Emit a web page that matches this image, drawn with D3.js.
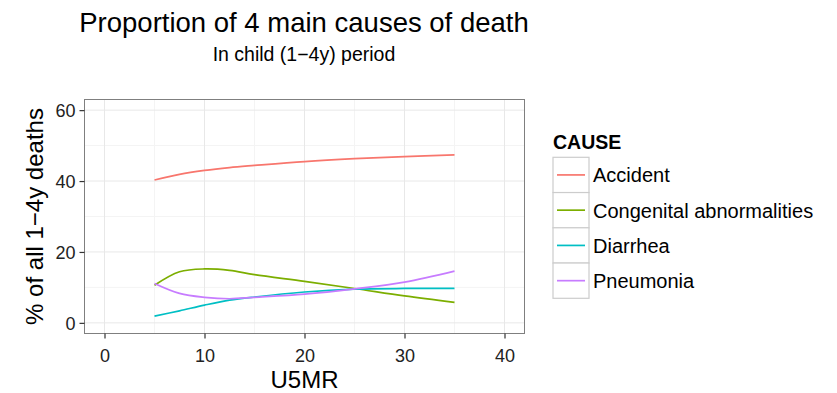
<!DOCTYPE html>
<html>
<head>
<meta charset="utf-8">
<script src="https://cdn.jsdelivr.net/npm/d3@7"></script>
<style>
  body { margin: 0; background: #fff; }
  svg { display: block; font-family: "Liberation Sans", Arial, sans-serif; }
</style>
</head>
<body>
<svg id="chart" width="837" height="393"></svg>
<script>
// U5MR sample points and smoothed share (%) of 1–4y deaths per cause
const u5mr = [5, 7.5, 10, 12.5, 15, 20, 25, 30, 35];
const causes = ["Accident", "Congenital abnormalities", "Diarrhea", "Pneumonia"];
const accident   = [40.3, 41.9, 43.0, 43.8, 44.4, 45.5, 46.3, 46.9, 47.4];
const congenital = [10.6, 14.4, 15.2, 14.8, 13.6, 11.7, 9.7, 7.6, 5.8];
const diarrhea   = [1.9, 3.4, 5.0, 6.4, 7.3, 8.7, 9.5, 9.7, 9.7];
const pneumonia  = [11.1, 8.3, 7.2, 6.8, 7.2, 8.1, 9.6, 11.5, 14.6];
const colors = ["#F8766D", "#7CAE00", "#00BFC4", "#C77CFF"];
const xTicks = [0, 10, 20, 30, 40];
const xMinor = [5, 15, 25, 35];
const yTicks = [0, 20, 40, 60];
const yMinor = [10, 30, 50];

const seriesValues = [accident, congenital, diarrhea, pneumonia];
const series = causes.map((name, i) => ({
  name,
  color: colors[i],
  points: u5mr.map((x, j) => ({ x, y: seriesValues[i][j] }))
}));

const svg = d3.select("#chart");
const panel = { left: 84.5, right: 524.5, top: 99.5, bottom: 333.5 };

const x = d3.scaleLinear().domain([-2, 42]).range([panel.left, panel.right]);
const y = d3.scaleLinear().domain([-3, 63]).range([panel.bottom, panel.top]);

// panel background and grid
svg.append("rect")
  .attr("x", panel.left).attr("y", panel.top)
  .attr("width", panel.right - panel.left).attr("height", panel.bottom - panel.top)
  .attr("fill", "#fff");

const grid = svg.append("g");
grid.selectAll(".xminor").data(xMinor).join("line")
  .attr("x1", d => x(d)).attr("x2", d => x(d))
  .attr("y1", panel.top).attr("y2", panel.bottom)
  .attr("stroke", "#f4f4f4").attr("stroke-width", 1);
grid.selectAll(".yminor").data(yMinor).join("line")
  .attr("y1", d => y(d)).attr("y2", d => y(d))
  .attr("x1", panel.left).attr("x2", panel.right)
  .attr("stroke", "#f4f4f4").attr("stroke-width", 1);
grid.selectAll(".xmajor").data(xTicks).join("line")
  .attr("x1", d => x(d)).attr("x2", d => x(d))
  .attr("y1", panel.top).attr("y2", panel.bottom)
  .attr("stroke", "#e8e8e8").attr("stroke-width", 1);
grid.selectAll(".ymajor").data(yTicks).join("line")
  .attr("y1", d => y(d)).attr("y2", d => y(d))
  .attr("x1", panel.left).attr("x2", panel.right)
  .attr("stroke", "#e8e8e8").attr("stroke-width", 1);

// smoothed lines
const line = d3.line().x(d => x(d.x)).y(d => y(d.y)).curve(d3.curveCatmullRom.alpha(0.5));
svg.append("g").selectAll("path").data(series).join("path")
  .attr("d", d => line(d.points))
  .attr("fill", "none")
  .attr("stroke", d => d.color)
  .attr("stroke-width", 1.7);

// panel border
svg.append("rect")
  .attr("x", panel.left).attr("y", panel.top)
  .attr("width", panel.right - panel.left).attr("height", panel.bottom - panel.top)
  .attr("fill", "none").attr("stroke", "#7f7f7f").attr("stroke-width", 1);

// axes
const xAxis = svg.append("g")
  .attr("transform", `translate(0,${panel.bottom})`)
  .call(d3.axisBottom(x).tickValues(xTicks).tickSize(5).tickPadding(2));
const yAxis = svg.append("g")
  .attr("transform", `translate(${panel.left},0)`)
  .call(d3.axisLeft(y).tickValues(yTicks).tickSize(5).tickPadding(4));
[xAxis, yAxis].forEach(a => {
  a.select(".domain").remove();
  a.selectAll(".tick line").attr("stroke", "#333").attr("stroke-width", 1.2);
  a.selectAll(".tick text")
    .attr("fill", "#222")
    .style("font-size", "18px")
    .style("font-family", "'Liberation Sans', Arial, sans-serif");
});
xAxis.selectAll(".tick text").attr("dy", null).attr("y", 28);
yAxis.selectAll(".tick text").attr("dy", "0.36em");

// titles
svg.append("text")
  .attr("x", 304).attr("y", 32)
  .attr("text-anchor", "middle")
  .style("font-size", "27.5px")
  .attr("fill", "#000")
  .text("Proportion of 4 main causes of death");
svg.append("text")
  .attr("x", 304).attr("y", 61)
  .attr("text-anchor", "middle")
  .style("font-size", "19.5px")
  .attr("fill", "#000")
  .text("In child (1\u22124y) period");

svg.append("text")
  .attr("x", (panel.left + panel.right) / 2).attr("y", 388)
  .attr("text-anchor", "middle")
  .style("font-size", "24px")
  .text("U5MR");
svg.append("text")
  .attr("transform", `translate(43,${(panel.top + panel.bottom) / 2}) rotate(-90)`)
  .attr("text-anchor", "middle")
  .style("font-size", "24px")
  .text("% of all 1\u22124y deaths");

// legend
const legend = svg.append("g").attr("transform", "translate(553,157.3)");
legend.append("text")
  .attr("x", 0).attr("y", -8.5)
  .style("font-size", "19.5px").style("font-weight", "bold")
  .text("CAUSE");
const keyH = 35.25, keyW = 36;
const items = legend.selectAll("g.item").data(series).join("g")
  .attr("transform", (d, i) => `translate(0,${i * keyH})`);
items.append("rect")
  .attr("x", 0).attr("y", 0).attr("width", keyW).attr("height", keyH)
  .attr("fill", "#fff").attr("stroke", "#cccccc").attr("stroke-width", 1.2);
items.append("line")
  .attr("x1", 4).attr("x2", keyW - 4)
  .attr("y1", keyH / 2).attr("y2", keyH / 2)
  .attr("stroke", d => d.color).attr("stroke-width", 1.7);
items.append("text")
  .attr("x", keyW + 4).attr("y", keyH / 2 + 7.5)
  .style("font-size", "20px")
  .text(d => d.name);
</script>
</body>
</html>
